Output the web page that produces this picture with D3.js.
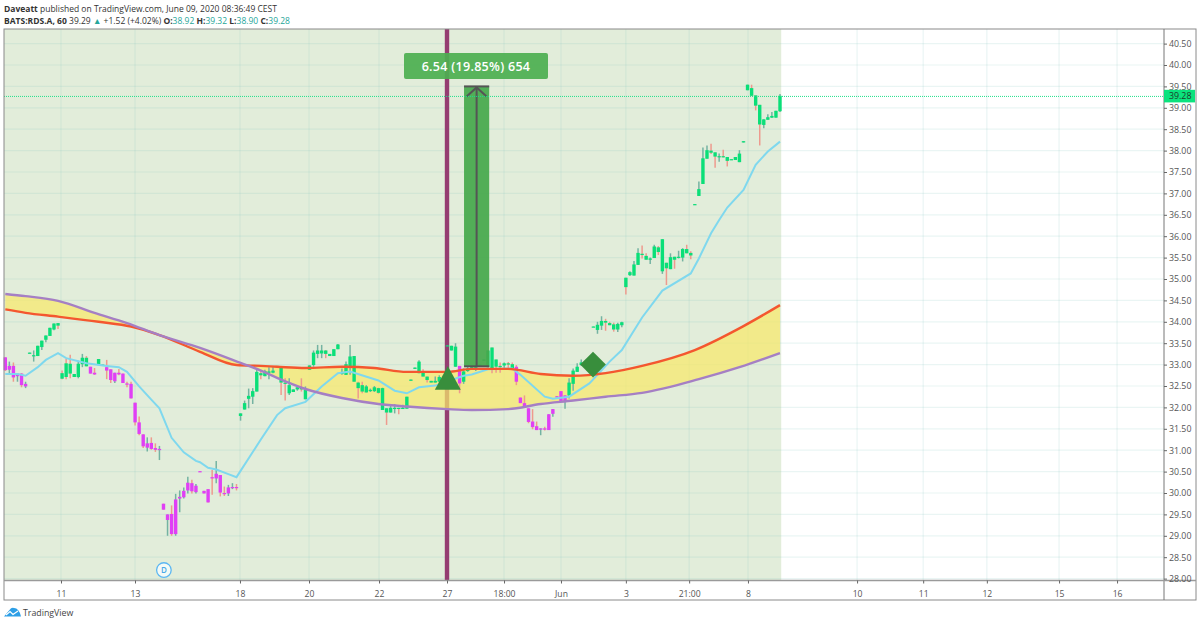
<!DOCTYPE html>
<html><head><meta charset="utf-8">
<script src="https://cdn.jsdelivr.net/npm/d3@7"></script>
<style>html,body{margin:0;padding:0;background:#fff}svg{display:block}text{font-family:"Open Sans","Noto Sans",sans-serif}</style>
</head><body><svg id="c" width="1200" height="625"></svg>
<script>
const opens=[33.17,32.88,32.97,32.73,32.79,32.49,33.26,33.20,33.20,33.41,
33.58,33.67,33.82,33.97,32.80,33.03,33.02,32.71,32.71,33.01,
33.16,32.95,32.81,32.99,32.99,32.94,32.89,32.61,32.81,32.79,
32.56,32.55,32.11,31.65,31.37,31.06,31.17,31.05,31.01,29.75,
29.37,29.51,29.04,29.87,29.90,30.06,30.23,30.02,30.51,30.05,
30.09,30.37,30.34,30.42,30.00,29.99,30.13,30.14,31.80,31.95,
32.20,32.25,32.37,32.80,32.73,32.81,32.81,32.95,32.94,32.58,
32.33,32.36,32.42,32.47,32.19,32.88,32.99,33.25,33.26,33.33,
33.20,33.20,33.36,32.78,32.76,32.95,33.20,32.58,32.52,32.35,
32.38,32.38,32.45,31.94,31.98,31.88,31.97,31.99,31.98,31.97,
32.63,32.90,32.80,32.81,32.72,32.62,32.58,32.60,32.60,33.44,
33.33,32.95,32.97,32.60,32.85,32.88,32.89,32.95,33.09,32.94,
33.40,33.12,32.97,32.98,33.03,33.01,32.95,32.23,32.10,31.98,
31.67,31.56,31.48,31.51,31.47,31.85,32.24,32.38,32.15,32.28,
32.55,32.83,32.99,33.05,33.06,33.88,33.81,33.91,34.02,33.97,
33.94,33.82,33.92,35.03,35.09,35.08,35.33,35.59,35.54,35.45,
35.49,35.74,35.18,35.38,35.23,35.52,35.51,35.50,35.70,35.61,
36.73,36.94,37.22,37.81,38.00,37.96,37.85,37.87,37.85,37.80,
37.78,37.73,38.19,39.41,39.46,39.29,39.07,38.60,38.72,38.77,38.77,38.92];
const closes=[32.87,32.97,32.70,32.79,32.52,32.55,33.28,33.22,33.44,33.56,
33.68,33.86,33.96,33.91,32.67,32.71,32.79,32.78,33.02,33.16,
32.96,32.79,32.77,33.13,33.00,32.86,32.64,32.81,32.77,32.57,
32.53,32.21,31.65,31.38,31.09,31.16,31.03,31.01,31.03,29.61,
29.50,29.04,29.85,29.91,30.05,30.24,30.04,30.17,30.49,29.99,
29.78,30.34,30.45,30.01,29.99,30.13,30.14,30.13,31.86,32.10,
32.27,32.38,32.83,32.75,32.85,32.84,32.86,32.97,32.58,32.55,
32.52,32.42,32.47,32.42,32.42,32.98,33.28,33.33,33.33,33.25,
33.25,33.36,33.47,32.81,33.01,33.19,32.60,32.45,32.37,32.49,
32.41,32.47,32.34,32.45,31.88,31.99,31.99,31.98,31.99,32.25,
32.65,32.93,33.07,32.72,32.64,32.58,32.62,32.71,32.65,33.45,
33.44,33.42,32.56,32.84,32.91,32.94,32.94,33.00,33.12,33.33,
32.89,32.95,32.94,33.03,33.00,32.92,32.60,32.10,32.00,31.66,
31.54,31.47,31.51,31.48,31.84,31.96,32.26,32.15,32.28,32.58,
32.86,32.95,33.05,33.07,33.10,33.89,33.93,34.02,33.98,33.92,
33.82,33.95,33.99,34.81,35.16,35.34,35.61,35.56,35.45,35.48,
35.76,35.63,35.93,35.25,35.51,35.45,35.52,35.70,35.60,35.55,
36.75,37.10,37.82,38.01,37.95,37.86,37.87,37.85,37.76,37.78,
37.85,37.93,38.22,39.54,39.28,39.05,38.61,38.73,38.78,38.81,38.93,39.28];
const highs=[33.17,33.07,33.05,32.79,32.80,32.60,33.28,33.33,33.44,33.56,
33.68,33.86,33.96,33.97,32.86,33.13,33.23,32.78,33.09,33.25,
33.20,32.95,32.92,33.13,33.00,33.11,32.89,32.81,32.90,32.79,
32.60,32.60,32.11,31.79,31.37,31.30,31.30,31.16,31.10,29.75,
29.50,29.71,29.98,30.06,30.13,30.38,30.31,30.21,30.51,30.05,
30.09,30.54,30.75,30.42,30.15,30.19,30.23,30.21,31.86,32.16,
32.44,32.45,32.91,32.88,32.88,32.94,32.95,32.97,32.94,32.68,
32.68,32.42,32.50,32.68,32.49,32.98,33.33,33.46,33.46,33.34,
33.25,33.36,33.48,32.91,33.07,33.46,33.20,32.60,32.60,32.52,
32.44,32.50,32.46,32.46,31.98,32.08,32.08,31.99,32.06,32.25,
32.65,32.93,33.10,32.89,32.72,32.62,32.72,32.75,32.65,33.45,
33.44,33.50,32.97,32.91,32.95,32.94,32.96,33.00,33.12,33.33,
33.40,33.12,33.05,33.05,33.06,33.05,32.99,32.23,32.28,31.98,
31.96,31.67,31.51,31.55,31.84,31.96,32.26,32.38,32.28,32.68,
32.91,33.03,33.12,33.07,33.10,33.89,34.00,34.13,34.07,34.00,
33.98,33.98,34.00,35.03,35.18,35.42,35.72,35.78,35.60,35.50,
35.80,35.77,35.93,35.38,35.60,35.52,35.66,35.72,35.80,35.65,
36.75,37.28,38.07,38.12,38.16,37.96,37.93,38.02,37.85,37.80,
37.85,38.01,38.22,39.54,39.54,39.29,39.07,38.73,38.85,38.90,38.93,39.32];
const lows=[32.85,32.76,32.60,32.60,32.47,32.45,33.26,33.07,33.20,33.34,
33.52,33.67,33.80,33.83,32.66,32.66,32.68,32.71,32.68,32.94,
32.96,32.79,32.76,32.99,32.99,32.66,32.57,32.57,32.75,32.57,
32.47,32.21,31.58,31.35,31.05,30.97,31.01,30.96,30.77,29.61,
29.00,29.00,29.00,29.55,29.87,29.99,29.99,29.99,30.49,29.99,
29.78,29.96,30.23,29.92,29.93,29.93,30.09,30.06,31.69,31.95,
31.98,32.08,32.37,32.66,32.73,32.66,32.80,32.95,32.29,32.16,
32.29,32.36,32.39,32.37,32.19,32.88,32.95,33.15,33.15,33.15,
33.20,33.20,33.36,32.76,32.76,32.76,32.60,32.21,32.33,32.35,
32.36,32.36,32.32,31.94,31.59,31.88,31.86,31.84,31.97,31.97,
32.63,32.90,32.80,32.72,32.58,32.58,32.58,32.58,32.60,33.44,
33.33,32.95,32.33,32.55,32.83,32.88,32.85,32.95,33.09,32.94,
32.80,32.81,32.81,32.89,32.89,32.87,32.52,32.10,32.00,31.63,
31.49,31.47,31.35,31.46,31.47,31.78,32.24,32.15,31.97,32.21,
32.39,32.83,32.97,33.05,33.06,33.88,33.72,33.81,33.79,33.92,
33.77,33.76,33.87,34.64,35.07,35.08,35.33,35.48,35.45,35.35,
35.49,35.56,35.12,34.86,35.23,35.24,35.48,35.41,35.60,35.46,
36.73,36.94,37.22,37.81,37.92,37.60,37.74,37.84,37.63,37.78,
37.78,37.73,38.19,39.41,39.28,38.94,38.12,38.52,38.72,38.76,38.77,38.90];
const magentaRuns=[[0,5],[21,22],[25,57],[112,112],[126,138]];

const maBars=[0,3,5,8,10,13,15,20,25,28,30,33,36,38,41,44,47,48,50,52,55,57,63,67,69,74,78,82,85,92,96,99,102,106,113,115,119,125,127,133,135,139,144,149,152,157,162,169,171,174,176,178,182,185,188,191];
const maVals=[32.78,32.78,32.74,32.94,33.11,33.27,33.15,33.03,32.97,32.94,32.83,32.49,32.18,31.98,31.29,30.95,30.75,30.72,30.59,30.55,30.44,30.37,31.25,31.82,31.98,32.13,32.49,32.80,32.84,32.63,32.39,32.33,32.47,32.51,32.74,32.77,32.89,32.91,32.76,32.25,32.20,32.25,32.56,33.07,33.34,34.10,34.73,35.13,35.48,36.07,36.38,36.67,37.08,37.67,37.98,38.21];
const slowBars=[0,5,13,22,30,38,48,58,63,67,74,83,92,99,109,115,124,132,140,148,157,171,181,191];
const slowVals=[34.65,34.60,34.49,34.21,33.97,33.69,33.39,33.04,32.86,32.69,32.43,32.22,32.08,32.02,31.96,31.94,31.96,32.08,32.16,32.25,32.34,32.66,32.94,33.27];
const fastBars=[0,5,13,23,31,38,48,57,63,67,74,83,91,99,109,115,124,132,140,148,157,170,182,191];
const fastVals=[34.29,34.21,34.12,34.00,33.89,33.69,33.30,32.99,32.97,32.95,32.92,32.95,32.92,32.83,32.83,32.90,32.90,32.78,32.74,32.80,32.97,33.34,33.90,34.39];

const xTickBars=[13.73,31.98,57.86,74.88,92.14,108.9,122.96,137,153,168.6,183.1,210,226.3,242,259.8,274.1];
const xTickLabels=["11","13","18","20","22","27","18:00","Jun","3","21:00","8","10","11","12","15","16"];
const yTicks=d3.range(28,40.51,0.5);
const lastPrice=39.28;
const sessionEndBar=191.3;
const signalBar=108.9;
const rangeBars=[113.1,119.3], rangePrices=[32.96,39.50];
const rangeLabel="6.54 (19.85%) 654";
const triangleBar=109.1, trianglePrices=[32.41,32.97];
const diamondBar=144.9, diamondPrice=33.0;
const dividendBar=39.1, dividendPrice=28.2;

const x=d3.scaleLinear().domain([0,191]).range([5.3,780]);
const y=d3.scaleLinear().domain([28,40.5]).range([578.6,43.6]);
const svg=d3.select("#c");
const paneL=4,paneR=1164,paneT=29,paneB=580.5,frameR=1196,frameB=600;

svg.append("rect").attr("x",paneL).attr("y",paneT).attr("width",x(sessionEndBar)-paneL).attr("height",paneB-paneT).attr("fill","#e2edda");

// grid
const grid=svg.append("g").attr("stroke","#8cc8c4").attr("stroke-opacity",.18).attr("stroke-width",1.2);
grid.selectAll("line.h").data(yTicks).join(e=>e.append("line").attr("class","h")).attr("x1",paneL).attr("x2",paneR).attr("y1",d=>y(d)).attr("y2",d=>y(d));
grid.selectAll("line.v").data(xTickBars).join(e=>e.append("line").attr("class","v")).attr("x1",d=>x(d)).attr("x2",d=>x(d)).attr("y1",paneT).attr("y2",paneB);

// signal bar
svg.append("rect").attr("x",x(signalBar)-2.2).attr("y",paneT).attr("width",4.4).attr("height",paneB-paneT).attr("fill","#953d71");

// band between the two averages
const pts=(b,v)=>b.map((d,i)=>[d,v[i]]);
const ln=d3.line().x(d=>x(d[0])).y(d=>y(d[1]));
const sm=d3.line().x(d=>x(d[0])).y(d=>y(d[1])).curve(d3.curveMonotoneX);
const slowAt=d3.scaleLinear().domain(slowBars).range(slowVals);
const fastAt=d3.scaleLinear().domain(fastBars).range(fastVals);
const bandBars=[...new Set([...slowBars,...fastBars])].sort((a,b)=>a-b);
svg.append("path").attr("d",d3.area().x(d=>x(d)).y0(d=>y(slowAt(d))).y1(d=>y(fastAt(d))).curve(d3.curveMonotoneX)(bandBars)).attr("fill","#f8e96b").attr("fill-opacity",.72);

// candles
const isMagenta=i=>magentaRuns.some(r=>i>=r[0]&&i<=r[1]);
const cg=svg.append("g");
const idx=d3.range(opens.length);
cg.selectAll("line").data(idx).join("line")
 .attr("x1",i=>x(i)).attr("x2",i=>x(i)).attr("y1",i=>y(highs[i])).attr("y2",i=>y(lows[i]))
 .attr("stroke",i=>closes[i]>=opens[i]?"#74b3a2":"#ee9a8e").attr("stroke-width",1.5);
cg.selectAll("rect").data(idx).join("rect")
 .attr("x",i=>x(i)-1.7).attr("width",3.4)
 .attr("y",i=>y(Math.max(opens[i],closes[i])))
 .attr("height",i=>Math.max(1.2,Math.abs(y(opens[i])-y(closes[i]))))
 .attr("fill",i=>isMagenta(i)?"#e03ff5":"#0adf78");

// lines
svg.append("path").attr("d",ln(pts(maBars,maVals))).attr("fill","none").attr("stroke","#7fd8ee").attr("stroke-width",2);
svg.append("path").attr("d",sm(pts(fastBars,fastVals))).attr("fill","none").attr("stroke","#f4572f").attr("stroke-width",2.4);
svg.append("path").attr("d",sm(pts(slowBars,slowVals))).attr("fill","none").attr("stroke","#a57fc4").attr("stroke-width",2.4);

// range tool
const rx0=x(rangeBars[0]),rx1=x(rangeBars[1]),ry0=y(rangePrices[0]),ry1=y(rangePrices[1]),rm=(rx0+rx1)/2;
svg.append("rect").attr("x",rx0).attr("y",ry1).attr("width",rx1-rx0).attr("height",ry0-ry1).attr("fill","#45a84c").attr("fill-opacity",.92);
const rg=svg.append("g").attr("stroke","#555").attr("stroke-width",2).attr("fill","none");
rg.append("line").attr("x1",rx0).attr("x2",rx1).attr("y1",ry1).attr("y2",ry1);
rg.append("line").attr("x1",rx0).attr("x2",rx1).attr("y1",ry0).attr("y2",ry0);
rg.append("line").attr("x1",rm).attr("x2",rm).attr("y1",ry1).attr("y2",ry0);
rg.append("path").attr("d",`M${rm-10},${ry1+10}L${rm},${ry1+1}L${rm+10},${ry1+10}`);

// triangle and diamond
const tx=x(triangleBar);
svg.append("path").attr("d",`M${tx},${y(trianglePrices[1])}L${tx+13},${y(trianglePrices[0])}L${tx-13},${y(trianglePrices[0])}Z`).attr("fill","#388e3c");
svg.append("path").attr("d",d3.symbol(d3.symbolSquare,330)()).attr("transform",`translate(${x(diamondBar)},${y(diamondPrice)}) rotate(45)`).attr("fill","#388e3c");

// last price line
svg.append("line").attr("x1",paneL).attr("x2",paneR).attr("y1",y(lastPrice)+.6).attr("y2",y(lastPrice)+.6).attr("stroke","#1fe08a").attr("stroke-width",1).attr("stroke-dasharray","1 1");

// range label
svg.append("rect").attr("x",404).attr("y",53).attr("width",144).attr("height",26).attr("rx",2).attr("fill","#4caf50").attr("fill-opacity",.92);
svg.append("text").attr("x",476).attr("y",70.5).attr("text-anchor","middle").attr("fill","#fff").attr("font-size",12.5).attr("font-weight",600).attr("letter-spacing",.3).text(rangeLabel);

// frame
svg.append("rect").attr("x",paneL).attr("y",paneT).attr("width",frameR-paneL).attr("height",frameB-paneT).attr("fill","none").attr("stroke","#8a8a8a").attr("stroke-width",1);
svg.append("line").attr("x1",paneR).attr("x2",paneR).attr("y1",paneT).attr("y2",frameB).attr("stroke","#777");

// axes
const xa=svg.append("g").attr("transform",`translate(0,${paneB})`).call(d3.axisBottom(x).tickValues(xTickBars).tickFormat((d,i)=>xTickLabels[i]).tickSize(3).tickPadding(7));
xa.select(".domain").attr("d",`M${paneL},0H${frameR}`).attr("stroke","#9a9a9a").attr("stroke-width",1.6);
xa.selectAll(".tick line").attr("stroke","#666");
xa.selectAll("text").attr("font-size",8.6).attr("fill","#555").style("font-family",'"Open Sans",sans-serif');
const ya=svg.append("g").attr("transform",`translate(${paneR},0)`).call(d3.axisRight(y).tickValues(yTicks).tickFormat(d3.format(".2f")).tickSize(3).tickPadding(2));
ya.select(".domain").remove();
ya.selectAll(".tick line").attr("stroke","#666");
ya.selectAll("text").attr("font-size",8.8).attr("fill","#555").style("font-family",'"Open Sans",sans-serif');

// last price tag
svg.append("rect").attr("x",paneR).attr("y",y(lastPrice)-6).attr("width",31).attr("height",12.6).attr("fill","#0be27d");
svg.append("text").attr("x",paneR+5).attr("y",y(lastPrice)+3.4).attr("font-size",8.8).attr("fill","#1d3b2a").text(d3.format(".2f")(lastPrice));

// dividend marker
svg.append("circle").attr("cx",x(dividendBar)).attr("cy",y(dividendPrice)).attr("r",7.3).attr("fill","#f4faf6").attr("stroke","#5cb7f2").attr("stroke-width",1.3);
svg.append("text").attr("x",x(dividendBar)).attr("y",y(dividendPrice)+3).attr("text-anchor","middle").attr("font-size",8).attr("font-weight",600).attr("fill","#4aa8e8").text("D");

// header
const h1=svg.append("text").attr("x",4).attr("y",11.5).attr("font-size",8.5).attr("fill","#333");
h1.append("tspan").attr("font-weight",700).text("Daveatt");
h1.append("tspan").text(" published on TradingView.com, June 09, 2020 08:36:49 CEST");
const h2=svg.append("text").attr("x",4).attr("y",23.5).attr("font-size",8.5).attr("fill","#333");
h2.append("tspan").attr("font-weight",700).text("BATS:RDS.A, 60");
h2.append("tspan").text(" 39.29 ");
h2.append("tspan").attr("fill","#26a69a").text("▲");
h2.append("tspan").text(" +1.52 (+4.02%) ");
[["O:","38.92"],["H:","39.32"],["L:","38.90"],["C:","39.28"]].forEach(([k,v])=>{
 h2.append("tspan").attr("font-weight",700).text(k);
 h2.append("tspan").attr("fill","#26a69a").text(v+" ");
});

// footer
svg.append("path").attr("d","M4,616.5L9.5,610Q11.5,607 14,608Q19,608 21,616.5Z").attr("fill","#2e9fe6");
svg.append("path").attr("d","M6,615L10,611.5L13,614.5L18,611").attr("fill","none").attr("stroke","#fff").attr("stroke-width",1.2);
svg.append("text").attr("x",23).attr("y",615.5).attr("font-size",8.8).attr("fill","#444").text("TradingView");
</script></body></html>
